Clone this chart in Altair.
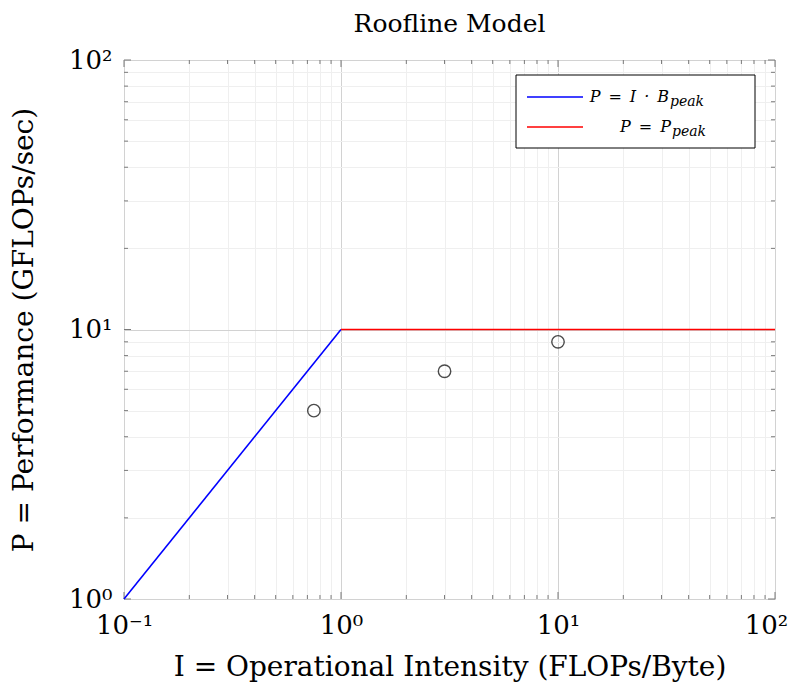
import altair as alt
import pandas as pd

# ---- data ----
bw_I = [0.1, 1.0]          # memory-bound roof  P = I * B_peak
bw_P = [1.0, 10.0]
peak_I = [1.0, 100.0]      # compute-bound roof P = P_peak
peak_P = [10.0, 10.0]
series_main = ["P\u2002=\u2002I\u2002·\u2002B", "P\u2002=\u2002P"]
series_sub = ["peak", "peak"]
series_colors = ["#0000ff", "#ff0000"]

pts_I = [0.75, 3.0, 10.0]
pts_P = [5.0, 7.0, 9.0]

x_major = [0.1, 1, 10, 100]
y_major = [1, 10, 100]
x_minor = [m * d for d in [0.1, 1, 10] for m in range(2, 10)]
y_minor = [m * d for d in [1, 10] for m in range(2, 10)]

W, H = 651, 539
FONT = "DejaVu Serif"

pts_df = pd.DataFrame({"I": pts_I, "P": pts_P})

xs = alt.Scale(type="log", domain=[0.1, 100], nice=False)
ys = alt.Scale(type="log", domain=[1, 100], nice=False)

is_dec = "abs(log(datum.value)/LN10 - round(log(datum.value)/LN10)) < 1e-6"
exp = "round(log(datum.value)/LN10)"
label_expr = (f"({is_dec}) ? ({exp} == -1 ? '10⁻¹' : {exp} == 0 ? '10⁰' : "
              f"{exp} == 1 ? '10¹' : {exp} == 2 ? '10²' : '') : ''")
grid_color = {"condition": {"test": is_dec, "value": "#d2d2d2"}, "value": "#efefef"}

common_axis = dict(
    labelExpr=label_expr, ticks=False, domain=False, labelOverlap=False,
    labelFlush=False, labelBound=False, labelFont=FONT, labelFontSize=26,
    labelColor="black", titleFont=FONT, titleFontSize=28, titleFontWeight="normal",
    titleColor="black", gridColor=grid_color, gridWidth=1,
)

x_axis = alt.Axis(values=sorted(x_major + x_minor), labelPadding=13, titlePadding=15,
                  labelOffset={"condition": {"test": "datum.value >= 99", "value": -9},
                               "value": 0},
                  title="I = Operational Intensity (FLOPs/Byte)", **common_axis)
y_axis = alt.Axis(values=sorted(y_major + y_minor), labelPadding=12, titlePadding=30,
                  title="P = Performance (GFLOPs/sec)", **common_axis)

grid = alt.Chart(pts_df).mark_point(opacity=0).encode(
    x=alt.X("I:Q", scale=xs, axis=x_axis),
    y=alt.Y("P:Q", scale=ys, axis=y_axis),
)


def roof(I, P, color):
    return alt.Chart(pd.DataFrame({"I": I, "P": P})).mark_line(
        color=color, strokeWidth=1.6).encode(
        x=alt.X("I:Q", scale=xs), y=alt.Y("P:Q", scale=ys))


bw_line = roof(bw_I, bw_P, series_colors[0])
peak_line = roof(peak_I, peak_P, series_colors[1])

points = alt.Chart(pts_df).mark_point(shape="circle", size=155, color="black",
                                      strokeWidth=1.4, filled=False).encode(
    x=alt.X("I:Q", scale=xs),
    y=alt.Y("P:Q", scale=ys),
)

TICK_COLOR = "#7a7a7a"


def xticks(vals, length):
    df = pd.DataFrame({"I": vals})
    bottom = alt.Chart(df).mark_rule(color=TICK_COLOR, strokeWidth=1).encode(
        x=alt.X("I:Q", scale=xs), y=alt.value(H), y2=alt.value(H - length))
    top = alt.Chart(df).mark_rule(color=TICK_COLOR, strokeWidth=1).encode(
        x=alt.X("I:Q", scale=xs), y=alt.value(0), y2=alt.value(length))
    return [bottom, top]


def yticks(vals, length):
    df = pd.DataFrame({"P": vals})
    left = alt.Chart(df).mark_rule(color=TICK_COLOR, strokeWidth=1).encode(
        y=alt.Y("P:Q", scale=ys), x=alt.value(0), x2=alt.value(length))
    right = alt.Chart(df).mark_rule(color=TICK_COLOR, strokeWidth=1).encode(
        y=alt.Y("P:Q", scale=ys), x=alt.value(W), x2=alt.value(W - length))
    return [left, right]


tick_layers = (xticks(x_major, 7) + xticks(x_minor, 4) +
               yticks(y_major, 7) + yticks(y_minor, 4))

# ---- legend (box in the upper right of the plot area) ----
LX0, LX1, LY0, LY1 = 392, 631, 15, 88
one = pts_df.head(1)
legend_box = alt.Chart(one).mark_rect(
    fill="white", stroke="black", strokeWidth=1).encode(
    x=alt.value(LX0), x2=alt.value(LX1), y=alt.value(LY0), y2=alt.value(LY1))
legend_layers = [legend_box]
for k, (main, sub, col) in enumerate(zip(series_main, series_sub, series_colors)):
    yy = 37 + 30 * k
    xr = 545 + 2 * k
    legend_layers.append(
        alt.Chart(one).mark_rule(color=col, strokeWidth=1.6).encode(
            x=alt.value(403), x2=alt.value(459), y=alt.value(yy)))
    legend_layers.append(
        alt.Chart(one).mark_text(
            text=main, font=FONT, fontSize=16, fontStyle="italic", color="black",
            align="right", baseline="middle").encode(
            x=alt.value(xr), y=alt.value(yy)))
    legend_layers.append(
        alt.Chart(one).mark_text(
            text=sub, font=FONT, fontSize=14, fontStyle="italic", color="black",
            align="left", baseline="middle", dy=5).encode(
            x=alt.value(xr + 1), y=alt.value(yy)))

chart = alt.layer(grid, *tick_layers, bw_line, peak_line, points,
                  *legend_layers).properties(
    width=W, height=H,
    title=alt.TitleParams("Roofline Model", font=FONT, fontSize=25,
                          fontWeight="normal", color="black", offset=10),
    autosize=alt.AutoSizeParams(type="none"),
    padding={"left": 116, "top": 52, "right": 15, "bottom": 84},
).configure_view(stroke="black", strokeWidth=1.3).configure(background="white")

chart.save("out.html", embed_options={"renderer": "svg", "actions": False})
